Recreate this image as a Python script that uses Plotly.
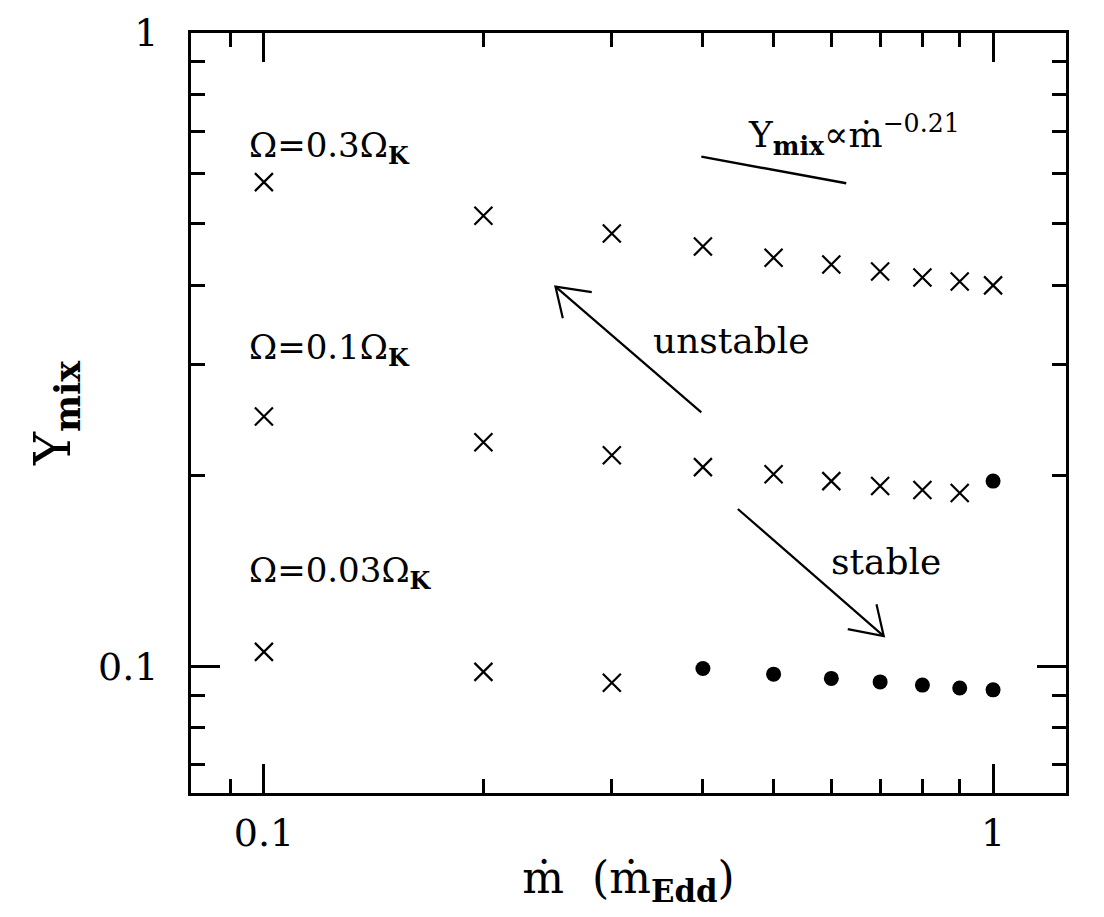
import numpy as np
import plotly.graph_objects as go

# accretion rate in Eddington units
mdot = [0.1, 0.2, 0.3, 0.4, 0.5, 0.6, 0.7, 0.8, 0.9, 1.0]

# Omega = 0.3 Omega_K (all unstable)
ymix_03 = [0.5815, 0.5146, 0.4823, 0.4600, 0.4418, 0.4309, 0.4201, 0.4112, 0.4053, 0.3995]

# Omega = 0.1 Omega_K (unstable up to 0.9, stable at 1.0)
mdot_01_x = [0.1, 0.2, 0.3, 0.4, 0.5, 0.6, 0.7, 0.8, 0.9]
ymix_01_x = [0.2480, 0.2258, 0.2154, 0.2063, 0.2011, 0.1961, 0.1926, 0.1898, 0.1878]
mdot_01_o = [1.0]
ymix_01_o = [0.1961]

# Omega = 0.03 Omega_K
mdot_003_x = [0.1, 0.2, 0.3]
ymix_003_x = [0.1054, 0.0980, 0.0942]
mdot_003_o = [0.4, 0.5, 0.6, 0.7, 0.8, 0.9, 1.0]
ymix_003_o = [0.0992, 0.0972, 0.0957, 0.0945, 0.0934, 0.0924, 0.0918]

# reference slope line  Y_mix ~ mdot^-0.21
slope_x = [0.398, 0.629]
slope_y = [0.638, 0.579]

# arrows: tail -> tip, then the two barbs of the open head
unstable_x = [0.398, 0.2511, None, 0.2816, 0.2511, 0.2570]
unstable_y = [0.2518, 0.3977, None, 0.3897, 0.3977, 0.3546]
stable_x = [0.4466, 0.708, None, 0.692, 0.708, 0.632]
stable_y = [0.1772, 0.1116, None, 0.1253, 0.1116, 0.1145]

x_major = [0.1, 1]
x_minor = [0.09, 0.2, 0.3, 0.4, 0.5, 0.6, 0.7, 0.8, 0.9]
y_major = [0.1, 1]
y_minor = [0.07, 0.08, 0.09, 0.2, 0.3, 0.4, 0.5, 0.6, 0.7, 0.8, 0.9]

# text labels: (x, y, text, size, anchor)
labels = [
    (0.0948, 0.66, "Ω=0.3Ω<sub><b>K</b></sub>", 34, "left"),
    (0.0948, 0.316, "Ω=0.1Ω<sub><b>K</b></sub>", 34, "left"),
    (0.0948, 0.1405, "Ω=0.03Ω<sub><b>K</b></sub>", 34, "left"),
    (0.438, 0.3275, "unstable", 36, "center"),
    (0.714, 0.1464, "stable", 36, "center"),
    (0.645, 0.69, "Y<sub><b>mix</b></sub>∝ṁ<sup>−0.21</sup>", 36, "center"),
]

FONT = "DejaVu Serif"

fig = go.Figure()

cross = dict(symbol="x-thin-open", size=18, line=dict(color="black", width=2.2), color="black")
dot = dict(symbol="circle", size=15, color="black")

fig.add_trace(go.Scatter(x=mdot, y=ymix_03, mode="markers", marker=cross))
fig.add_trace(go.Scatter(x=mdot_01_x, y=ymix_01_x, mode="markers", marker=cross))
fig.add_trace(go.Scatter(x=mdot_01_o, y=ymix_01_o, mode="markers", marker=dot))
fig.add_trace(go.Scatter(x=mdot_003_x, y=ymix_003_x, mode="markers", marker=cross))
fig.add_trace(go.Scatter(x=mdot_003_o, y=ymix_003_o, mode="markers", marker=dot))

fig.add_trace(go.Scatter(x=slope_x, y=slope_y, mode="lines", line=dict(color="black", width=2.5)))
fig.add_trace(go.Scatter(x=unstable_x, y=unstable_y, mode="lines", line=dict(color="black", width=2.2)))
fig.add_trace(go.Scatter(x=stable_x, y=stable_y, mode="lines", line=dict(color="black", width=2.2)))

for x, y, t, s, al in labels:
    fig.add_annotation(x=np.log10(x), y=np.log10(y), xref="x", yref="y", text=t,
                       showarrow=False, xanchor=al, yanchor="middle",
                       font=dict(family=FONT, size=s, color="black"))

axis_common = dict(
    type="log", showgrid=False, zeroline=False,
    showline=True, linecolor="black", linewidth=3, mirror="allticks",
    ticks="inside", ticklen=29, tickwidth=2.5, tickcolor="black",
    tickfont=dict(family=FONT, size=38, color="black"),
    ticklabeloverflow="allow", automargin=False,
)

fig.update_xaxes(
    **axis_common, range=[-1.1, 0.1],
    tickmode="array", tickvals=x_major, ticktext=["0.1", "1"],
    ticklabelstandoff=4,
    minor=dict(tickmode="array", tickvals=x_minor, ticks="inside", ticklen=14,
               tickwidth=2.5, tickcolor="black", showgrid=False),
    title=dict(text="ṁ\u00a0\u00a0(ṁ<sub><b>Edd</b></sub>)", font=dict(family=FONT, size=44, color="black"),
               standoff=14),
)
fig.update_yaxes(
    **axis_common, range=[-1.2, 0],
    tickmode="array", tickvals=y_major, ticktext=["0.1", "1"],
    ticklabelstandoff=22,
    minor=dict(tickmode="array", tickvals=y_minor, ticks="inside", ticklen=14,
               tickwidth=2.5, tickcolor="black", showgrid=False),
    title=dict(text="Y<sub><b>mix</b></sub>", font=dict(family=FONT, size=50, color="black"),
               standoff=12),
)

# page body keeps an 8px margin, so the figure is 16px smaller than the window
fig.update_layout(
    width=1088, height=901,
    margin=dict(l=183, r=30, t=25, b=116),
    paper_bgcolor="white", plot_bgcolor="white",
    showlegend=False, hovermode=False,
)

fig.write_html("out.html")
